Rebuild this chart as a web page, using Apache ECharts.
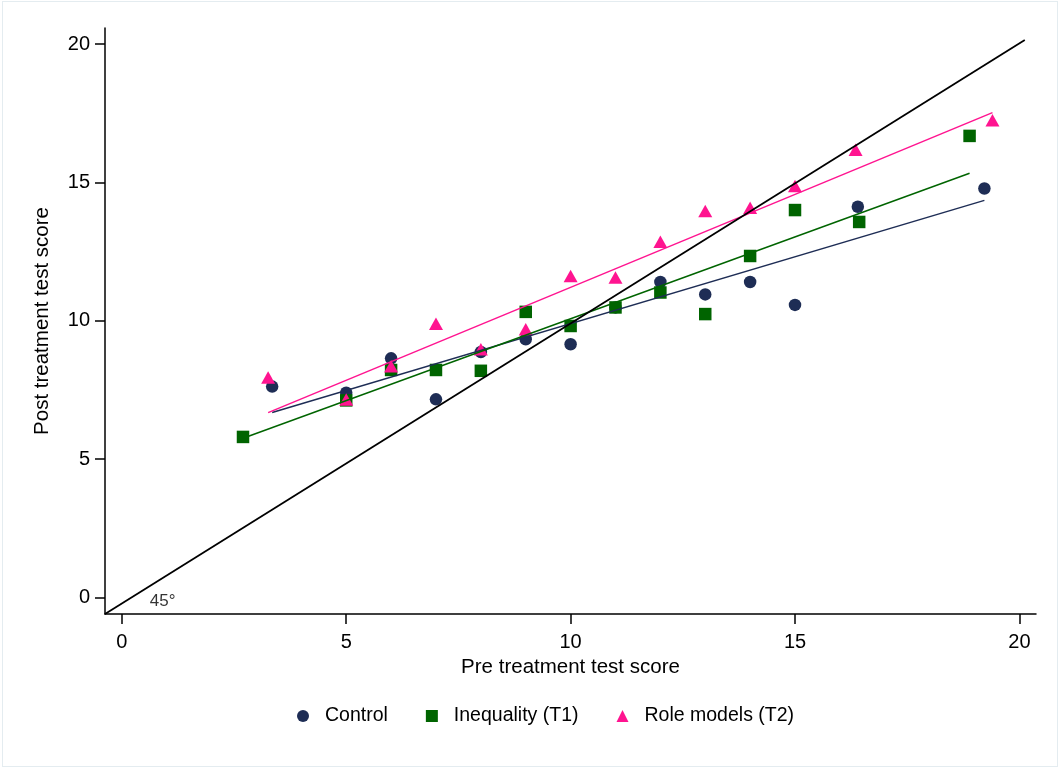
<!DOCTYPE html>
<html>
<head>
<meta charset="utf-8">
<script src="https://cdn.jsdelivr.net/npm/echarts@6/dist/echarts.min.js"></script>
<style>
html,body{margin:0;padding:0;background:#fff;}
#frame{position:absolute;left:2px;top:1px;width:1056px;height:766px;border:1px solid #e4ecf0;box-sizing:border-box;}
#chart{position:absolute;left:0;top:0;width:1062px;height:771px;}
</style>
</head>
<body>
<div id="frame"></div>
<div id="chart"></div>
<script>
const xTicks = [0, 5, 10, 15, 20];
const yTicks = [0, 5, 10, 15, 20];
const seriesNames = ['Control', 'Inequality (T1)', 'Role models (T2)'];
const control = [[3.35,7.62],[5,7.40],[6,8.64],[7,7.16],[8,8.87],[9,9.33],[10,9.15],[11,10.48],[12,11.40],[13,10.95],[14,11.40],[15,10.57],[16.40,14.12],[19.22,14.78]];
const inequality = [[2.70,5.80],[5,7.12],[6,8.22],[7,8.22],[8,8.19],[9,10.32],[10,9.81],[11,10.48],[12,11.02],[13,10.24],[14,12.34],[15,14.00],[16.43,13.57],[18.89,16.68]];
const roleModels = [[3.26,7.95],[5,7.15],[6,8.35],[7,9.89],[8,8.97],[9,9.69],[10,11.62],[11,11.56],[12,12.85],[13,13.97],[14,14.08],[15,14.87],[16.35,16.18],[19.40,17.25]];
const controlFit = [[3.35,6.68],[19.22,14.35]];
const inequalityFit = [[2.70,5.75],[18.89,15.33]];
const roleModelsFit = [[3.26,6.68],[19.40,17.52]];
const diagonal = [[-0.375,-0.6],[20.12,20.15]];
const diagLabel = [[0.91,-0.14]];

const colNavy = '#1e2d55', colGreen = '#006400', colPink = '#ff1490';
const FONT = 'Liberation Sans, Arial, sans-serif';

const chart = echarts.init(document.getElementById('chart'), null, {renderer:'canvas'});
const axisCommon = {
  axisLine:{show:true, onZero:false, lineStyle:{color:'#000', width:1.5}},
  axisTick:{show:true, length:10, lineStyle:{color:'#000', width:1.5}},
  splitLine:{show:false},
  nameLocation:'middle',
  nameTextStyle:{color:'#000', fontSize:20.5, fontFamily:FONT},
};
chart.setOption({
  animation:false,
  backgroundColor:'transparent',
  grid:{left:105, right:26, top:28, bottom:157, containLabel:false},
  xAxis:Object.assign({}, axisCommon, {
    type:'value', min:-0.375, max:20.37,
    name:'Pre treatment test score', nameGap:35,
    axisTick:Object.assign({}, axisCommon.axisTick, {customValues:xTicks}),
    axisLabel:{customValues:xTicks, margin:18, color:'#000', fontSize:20, fontFamily:FONT}
  }),
  yAxis:Object.assign({}, axisCommon, {
    type:'value', min:-0.6, max:20.58,
    name:'Post treatment test score', nameGap:52,
    axisTick:Object.assign({}, axisCommon.axisTick, {customValues:yTicks}),
    axisLabel:{customValues:yTicks, margin:15, color:'#000', fontSize:20, fontFamily:FONT}
  }),
  legend:{
    left:297, top:706, padding:0, orient:'horizontal', itemGap:38, itemWidth:12, itemHeight:12,
    textStyle:{color:'#000', fontSize:19.5, fontFamily:FONT, padding:[0,0,0,11]},
    data:[{name:seriesNames[0], icon:'circle'},{name:seriesNames[1], icon:'rect'},{name:seriesNames[2], icon:'triangle'}]
  },
  series:[
    {name:seriesNames[0], type:'scatter', data:control, symbol:'circle', symbolSize:12.5, itemStyle:{color:colNavy, opacity:1}, z:2},
    {name:seriesNames[1], type:'scatter', data:inequality, symbol:'rect', symbolSize:12.5, itemStyle:{color:colGreen, opacity:1}, z:3},
    {name:seriesNames[2], type:'scatter', data:roleModels, symbol:'triangle', symbolSize:[14,12.5], itemStyle:{color:colPink, opacity:1}, z:4},
    {name:'fitC', type:'line', data:controlFit, symbol:'none', lineStyle:{color:colNavy, width:1.5}, z:5},
    {name:'fitT1', type:'line', data:inequalityFit, symbol:'none', lineStyle:{color:colGreen, width:1.5}, z:5},
    {name:'fitT2', type:'line', data:roleModelsFit, symbol:'none', lineStyle:{color:colPink, width:1.5}, z:5},
    {name:'diag', type:'line', data:diagonal, symbol:'none', clip:true, lineStyle:{color:'#000', width:1.8}, z:6},
    {name:'diagText', type:'scatter', data:diagLabel, symbolSize:0, silent:true, z:7,
     label:{show:true, position:'inside', formatter:'45°', color:'#000', fontSize:17, fontFamily:FONT}}
  ]
});
</script>
</body>
</html>
